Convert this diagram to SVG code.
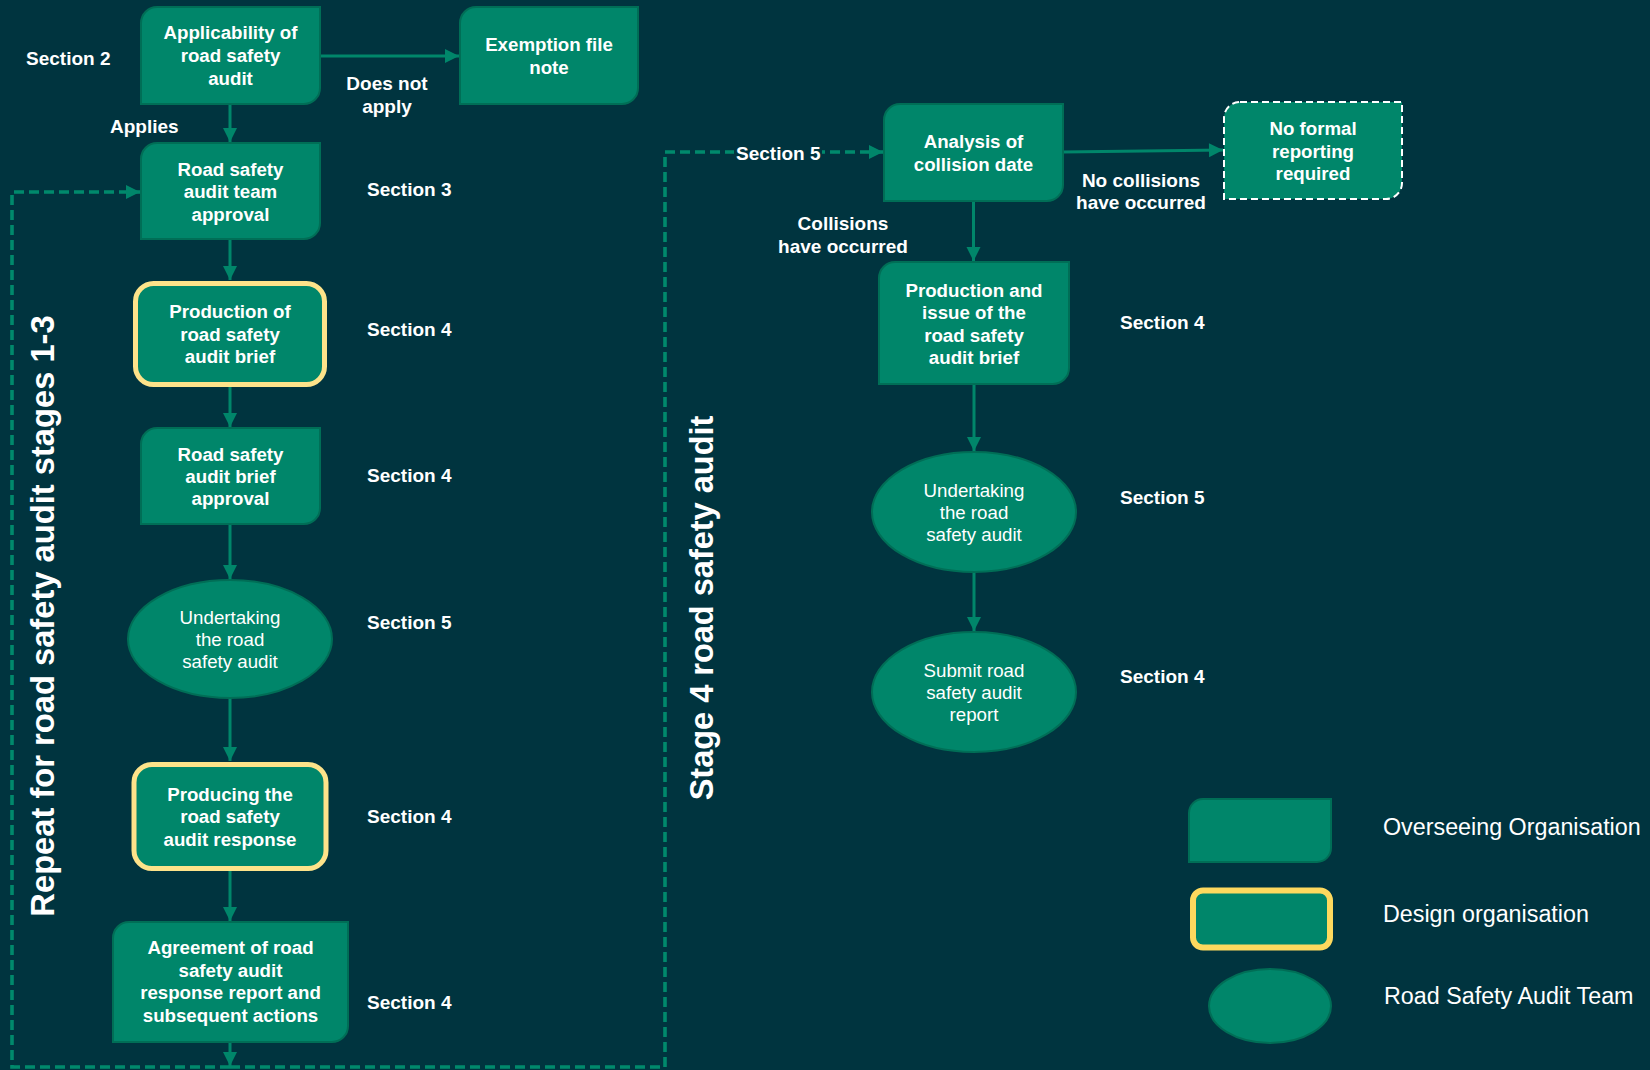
<svg xmlns="http://www.w3.org/2000/svg" width="1650" height="1070" viewBox="0 0 1650 1070">
<defs>
<style>
.bg{fill:#00343f}
.node{fill:#00866a;stroke:#006e56;stroke-width:2}
.design{fill:#00866a;stroke:#fde38a;stroke-width:5}
.nofm{fill:#00866a;stroke:#ffffff;stroke-width:2;stroke-dasharray:7,4}
.t{font-family:"Liberation Sans",Arial,sans-serif;font-size:18.7px;fill:#ffffff;text-anchor:middle}
.b{font-weight:bold}
.lbl{font-family:"Liberation Sans",Arial,sans-serif;font-size:19px;font-weight:bold;fill:#ffffff}
.mid{text-anchor:middle}
.title{font-family:"Liberation Sans",Arial,sans-serif;font-weight:bold;fill:#ffffff;text-anchor:middle}
.leg{font-family:"Liberation Sans",Arial,sans-serif;font-size:23.3px;fill:#ffffff}
.arr{fill:none;stroke:#00866a;stroke-width:3}
.dash{fill:none;stroke:#00896c;stroke-width:3.6;stroke-dasharray:10,5}
</style>
<marker id="ah" markerUnits="userSpaceOnUse" markerWidth="16" markerHeight="16" viewBox="0 0 16 16" refX="15" refY="8" orient="auto">
<path d="M1,1 L15,8 L1,15 Z" fill="#00866a"/>
</marker>
</defs>
<rect class="bg" x="0" y="0" width="1650" height="1070"/>

<g id="connectors">
<path class="arr" d="M320,56 H459" marker-end="url(#ah)"/>
<path class="arr" d="M230,104 V142" marker-end="url(#ah)"/>
<path class="arr" d="M230,239 V280" marker-end="url(#ah)"/>
<path class="arr" d="M230,387 V427" marker-end="url(#ah)"/>
<path class="arr" d="M230,524 V579" marker-end="url(#ah)"/>
<path class="arr" d="M230,698 V761" marker-end="url(#ah)"/>
<path class="arr" d="M230,871 V921" marker-end="url(#ah)"/>
<path class="arr" d="M230,1043 V1066" marker-end="url(#ah)"/>
<path class="dash" d="M230,1067 H12 V192 H140" marker-end="url(#ah)"/>
<path class="dash" d="M230,1067 H665 V152 H883" marker-end="url(#ah)"/>
<path class="arr" d="M1063,152 L1223,150" marker-end="url(#ah)"/>
<path class="arr" d="M973.5,201 V261" marker-end="url(#ah)"/>
<path class="arr" d="M974,384 V451" marker-end="url(#ah)"/>
<path class="arr" d="M974,572 V631" marker-end="url(#ah)"/>
</g>

<g id="labels">
<text class="lbl" x="26" y="65">Section 2</text>
<text class="lbl" x="110" y="133">Applies</text>
<text class="lbl mid" x="387" y="90">Does not</text>
<text class="lbl mid" x="387" y="113">apply</text>
<text class="lbl" x="367" y="196">Section 3</text>
<text class="lbl" x="367" y="336">Section 4</text>
<text class="lbl" x="367" y="482">Section 4</text>
<text class="lbl" x="367" y="629">Section 5</text>
<text class="lbl" x="367" y="823">Section 4</text>
<text class="lbl" x="367" y="1009">Section 4</text>
<rect x="734" y="143" width="88" height="20" class="bg"/>
<text class="lbl" x="736" y="160">Section 5</text>
<text class="lbl mid" x="1141" y="187">No collisions</text>
<text class="lbl mid" x="1141" y="209">have occurred</text>
<text class="lbl mid" x="843" y="230">Collisions</text>
<text class="lbl mid" x="843" y="253">have occurred</text>
<text class="lbl" x="1120" y="329">Section 4</text>
<text class="lbl" x="1120" y="504">Section 5</text>
<text class="lbl" x="1120" y="683">Section 4</text>
<text class="title" font-size="32.7" transform="translate(54,616) rotate(-90)">Repeat for road safety audit stages 1-3</text>
<text class="title" font-size="32.5" transform="translate(713,608) rotate(-90)">Stage 4 road safety audit</text>
</g>

<g id="n-applicability">
<path class="node" d="M157,7 H320 V88 A16,16 0 0 1 304,104 H141 V23 A16,16 0 0 1 157,7 Z"/>
<text class="t b" x="230.5" y="39">Applicability of</text>
<text class="t b" x="230.5" y="62">road safety</text>
<text class="t b" x="230.5" y="85">audit</text>
</g>

<g id="n-exemption">
<path class="node" d="M476,7 H638 V88 A16,16 0 0 1 622,104 H460 V23 A16,16 0 0 1 476,7 Z"/>
<text class="t b" x="549" y="51">Exemption file</text>
<text class="t b" x="549" y="74">note</text>
</g>

<g id="n-team-approval">
<path class="node" d="M157,143 H320 V223 A16,16 0 0 1 304,239 H141 V159 A16,16 0 0 1 157,143 Z"/>
<text class="t b" x="230.5" y="176">Road safety</text>
<text class="t b" x="230.5" y="198">audit team</text>
<text class="t b" x="230.5" y="221">approval</text>
</g>

<g id="n-brief">
<rect class="design" x="135.5" y="283.5" width="189" height="101" rx="18"/>
<text class="t b" x="230" y="318">Production of</text>
<text class="t b" x="230" y="341">road safety</text>
<text class="t b" x="230" y="363">audit brief</text>
</g>

<g id="n-brief-approval">
<path class="node" d="M157,428 H320 V508 A16,16 0 0 1 304,524 H141 V444 A16,16 0 0 1 157,428 Z"/>
<text class="t b" x="230.5" y="461">Road safety</text>
<text class="t b" x="230.5" y="483">audit brief</text>
<text class="t b" x="230.5" y="505">approval</text>
</g>

<g id="n-undertaking-1">
<ellipse class="node" cx="230" cy="639" rx="102" ry="59"/>
<text class="t" x="230" y="624">Undertaking</text>
<text class="t" x="230" y="646">the road</text>
<text class="t" x="230" y="668">safety audit</text>
</g>

<g id="n-response">
<rect class="design" x="134" y="764.5" width="192" height="104" rx="18"/>
<text class="t b" x="230" y="801">Producing the</text>
<text class="t b" x="230" y="823">road safety</text>
<text class="t b" x="230" y="846">audit response</text>
</g>

<g id="n-agreement">
<path class="node" d="M129,922 H348 V1026 A16,16 0 0 1 332,1042 H113 V938 A16,16 0 0 1 129,922 Z"/>
<text class="t b" x="230.5" y="954">Agreement of road</text>
<text class="t b" x="230.5" y="977">safety audit</text>
<text class="t b" x="230.5" y="999">response report and</text>
<text class="t b" x="230.5" y="1022">subsequent actions</text>
</g>

<g id="n-analysis">
<path class="node" d="M900,104 H1063 V185 A16,16 0 0 1 1047,201 H884 V120 A16,16 0 0 1 900,104 Z"/>
<text class="t b" x="973.5" y="148">Analysis of</text>
<text class="t b" x="973.5" y="171">collision date</text>
</g>

<g id="n-no-formal">
<path class="nofm" d="M1240,102 H1402 V183 A16,16 0 0 1 1386,199 H1224 V118 A16,16 0 0 1 1240,102 Z"/>
<text class="t b" x="1313" y="135">No formal</text>
<text class="t b" x="1313" y="158">reporting</text>
<text class="t b" x="1313" y="180">required</text>
</g>

<g id="n-production-issue">
<path class="node" d="M895,262 H1069 V368 A16,16 0 0 1 1053,384 H879 V278 A16,16 0 0 1 895,262 Z"/>
<text class="t b" x="974" y="297">Production and</text>
<text class="t b" x="974" y="319">issue of the</text>
<text class="t b" x="974" y="342">road safety</text>
<text class="t b" x="974" y="364">audit brief</text>
</g>

<g id="n-undertaking-2">
<ellipse class="node" cx="974" cy="512" rx="102" ry="60"/>
<text class="t" x="974" y="497">Undertaking</text>
<text class="t" x="974" y="519">the road</text>
<text class="t" x="974" y="541">safety audit</text>
</g>

<g id="n-submit">
<ellipse class="node" cx="974" cy="692" rx="102" ry="60"/>
<text class="t" x="974" y="677">Submit road</text>
<text class="t" x="974" y="699">safety audit</text>
<text class="t" x="974" y="721">report</text>
</g>

<g id="legend-overseeing">
<path class="node" d="M1203,799 H1331 V848 A14,14 0 0 1 1317,862 H1189 V813 A14,14 0 0 1 1203,799 Z"/>
<text class="leg" x="1383" y="835">Overseeing Organisation</text>
</g>
<g id="legend-design">
<rect x="1193" y="890.5" width="137" height="57" rx="10" fill="#00866a" stroke="#fdd95e" stroke-width="6"/>
<text class="leg" x="1383" y="922">Design organisation</text>
</g>
<g id="legend-team">
<ellipse class="node" cx="1270" cy="1006" rx="61" ry="37"/>
<text class="leg" x="1384" y="1004">Road Safety Audit Team</text>
</g>
</svg>
